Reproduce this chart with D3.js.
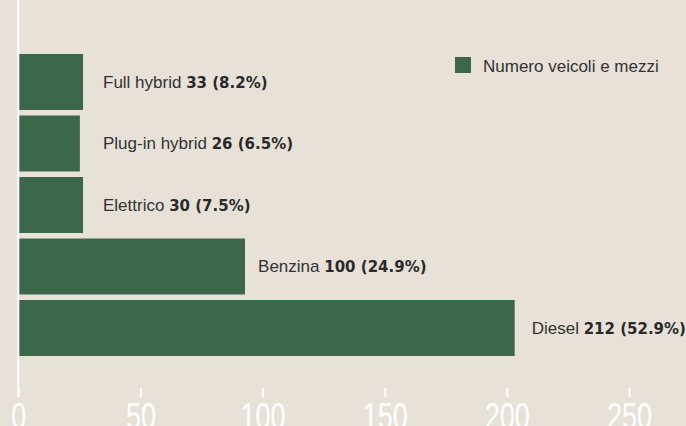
<!DOCTYPE html>
<html>
<head>
<meta charset="utf-8">
<script src="https://cdn.jsdelivr.net/npm/d3@7"></script>
<style>
  html, body { margin: 0; padding: 0; background: #e7e1d8; }
  svg { display: block; }
</style>
</head>
<body>
<div class="vehicle-chart"></div>
<script>
// categories, top to bottom
const categories = ["Full hybrid", "Plug-in hybrid", "Elettrico", "Benzina", "Diesel"];
// numbers printed in the labels
const counts = [33, 26, 30, 100, 212];
const shares = ["8.2%", "6.5%", "7.5%", "24.9%", "52.9%"];
// bar lengths as they are drawn in the picture (they do not follow the labels)
const barLengths = [26.5, 25.2, 26.5, 92.8, 203.2];
const tickValues = [0, 50, 100, 150, 200, 250];
const seriesName = "Numero veicoli e mezzi";

const width = 686;
const height = 426;
const green = "#3c674b";

const rows = categories.map((c, i) => ({
	category: c,
	count: counts[i],
	share: shares[i],
	length: barLengths[i]
}));

const svg = d3.select('.vehicle-chart')
	.append('svg')
	.attr('width', width)
	.attr('height', height);

svg.append('rect')
	.attr('width', width)
	.attr('height', height)
	.attr('fill', '#e7e1d8');

const x = d3.scaleLinear()
	.domain([0, 250])
	.range([18.3, 629]);

const y = d3.scaleBand()
	.domain(categories)
	.range([51.25, 358.75])
	.paddingInner(0.09)
	.paddingOuter(0.045);

svg.selectAll('rect.bar')
	.data(rows)
	.enter()
	.append('rect')
	.attr('class', 'bar')
	.attr('x', x(0))
	.attr('y', d => y(d.category))
	.attr('width', d => x(d.length) - x(0))
	.attr('height', y.bandwidth())
	.attr('fill', green);

// white value axis at the bottom
const axisY = 397;
const axis = svg.append('g')
	.attr('transform', `translate(0,${axisY})`)
	.call(d3.axisBottom(x).tickValues(tickValues).tickSizeInner(-9).tickSizeOuter(0));
axis.select('.domain').remove();
axis.selectAll('.tick line')
	.attr('stroke', '#ffffff')
	.attr('stroke-width', 2);
// labels run off the bottom edge like in the original
axis.selectAll('.tick text')
	.attr('y', 32)
	.attr('dy', 0)
	.attr('fill', '#ffffff')
	.attr('font-family', 'Liberation Sans, Arial, sans-serif')
	.attr('font-size', 36)
	.attr('transform', 'scale(0.75,1)');

// vertical base line
svg.append('line')
	.attr('x1', x(0))
	.attr('x2', x(0))
	.attr('y1', 0)
	.attr('y2', axisY)
	.attr('stroke', '#ffffff')
	.attr('stroke-width', 2);

// labels next to the bars
const labels = svg.selectAll('text.label')
	.data(rows)
	.enter()
	.append('text')
	.attr('class', 'label')
	.attr('x', d => Math.max(x(d.count) - 4.5, 103))
	.attr('y', d => y(d.category) + y.bandwidth() / 2)
	.attr('dy', '0.33em')
	.attr('font-family', 'Liberation Sans, Arial, sans-serif')
	.attr('font-size', 17)
	.attr('fill', '#333333');
labels.append('tspan')
	.text(d => d.category + ' ');
labels.append('tspan')
	.attr('font-family', 'DejaVu Sans, sans-serif')
	.attr('font-weight', 'bold')
	.attr('font-size', 15)
	.attr('fill', '#2a2a2a')
	.text(d => `${d.count} (${d.share})`);

// legend
const legend = svg.append('g').attr('transform', 'translate(455,57)');
legend.append('rect')
	.attr('width', 16)
	.attr('height', 16)
	.attr('fill', green);
legend.append('text')
	.attr('x', 28)
	.attr('y', 14.7)
	.attr('font-family', 'Liberation Sans, Arial, sans-serif')
	.attr('font-size', 17)
	.attr('fill', '#333333')
	.text(seriesName);
</script>
</body>
</html>
